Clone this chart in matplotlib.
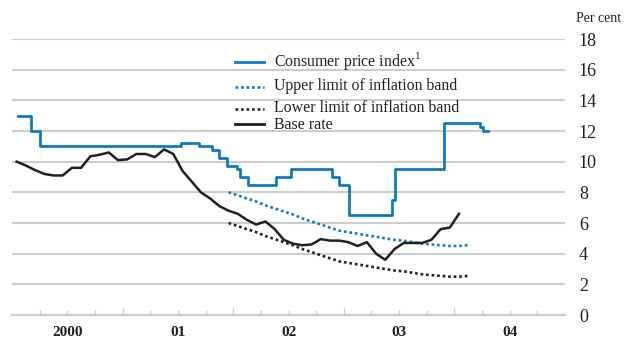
import numpy as np
import matplotlib.pyplot as plt
from matplotlib.lines import Line2D
from matplotlib.ticker import FixedLocator, FuncFormatter

plt.rcParams['font.family'] = ['Liberation Serif', 'DejaVu Serif']
plt.rcParams['mathtext.fontset'] = 'custom'
plt.rcParams['mathtext.rm'] = 'Liberation Serif'

BLUE = '#0f7ac3'
BLACK = '#231f20'
GRID = '#cdcdcd'

# step series: change dates (decimal years) and the level that holds from each date
cpi_dates = [2000.054, 2000.172, 2000.253, 2001.528, 2001.691, 2001.808, 2001.872,
             2001.944, 2002.034, 2002.062, 2002.134, 2002.387, 2002.523, 2002.891,
             2002.959, 2003.050, 2003.438, 2003.463, 2003.906, 2004.232, 2004.260,
             2004.304]
cpi_values = [13.0, 12.0, 11.0, 11.25, 11.0, 10.75, 10.25, 9.75, 9.5, 9.0, 8.5,
              9.0, 9.5, 9.0, 8.5, 6.5, 7.5, 9.5, 12.5, 12.25, 12.0, 12.0]

# monthly series, Jan 2000 - Jan 2004
base_rate = [10.0, 9.75, 9.45, 9.2, 9.1, 9.1, 9.6, 9.6, 10.35, 10.45, 10.6, 10.1,
             10.15, 10.5, 10.5, 10.3, 10.8, 10.5, 9.4, 8.7, 8.0, 7.6, 7.1, 6.8,
             6.6, 6.2, 5.9, 6.1, 5.6, 4.9, 4.65, 4.55, 4.6, 4.95, 4.85, 4.85,
             4.75, 4.5, 4.75, 4.0, 3.6, 4.3, 4.7, 4.7, 4.7, 4.9, 5.6, 5.7,
             6.6]

# inflation band, monthly Dec 2001 - Feb 2004
band_upper = [8.0, 7.8, 7.6, 7.4, 7.15, 6.95, 6.75, 6.55, 6.3, 6.1, 5.9, 5.7, 5.5,
              5.4, 5.3, 5.2, 5.1, 5.0, 4.9, 4.85, 4.75, 4.65, 4.6, 4.55, 4.5,
              4.5, 4.55]
band_lower = [6.0, 5.8, 5.6, 5.4, 5.15, 4.95, 4.75, 4.55, 4.3, 4.1, 3.9, 3.7, 3.5,
              3.4, 3.3, 3.2, 3.1, 3.0, 2.9, 2.85, 2.75, 2.65, 2.6, 2.55, 2.5,
              2.5, 2.55]

year_labels = ['2000', '01', '02', '03', '04']


def months_from(year, month, n):
    # mid-month positions in decimal years
    return year + (month - 1 + np.arange(n) + 0.5) / 12.0


rate_x = months_from(2000, 1, len(base_rate))
band_x = months_from(2001, 12, len(band_upper))

fig = plt.figure(figsize=(6.38, 3.38), dpi=100)
ax = fig.add_axes([12 / 638, 23 / 338, 553 / 638, 276 / 338])

ax.step(cpi_dates, cpi_values, where='post', color=BLUE, lw=2.0, zorder=3)
ax.plot(band_x, band_upper, color=BLUE, lw=1.9, ls=(0, (1, 1.1)), zorder=3)
ax.plot(band_x, band_lower, color=BLACK, lw=1.9, ls=(0, (1, 1.1)), zorder=3)
ax.plot(rate_x, base_rate, color=BLACK, lw=1.8, zorder=4)

ax.set_xlim(2000, 2005)
ax.set_ylim(0, 18)

# y axis on the right, gridlines every 2
ax.set_yticks(range(0, 19, 2))
ax.yaxis.tick_right()
ax.tick_params(axis='y', length=0, pad=10, labelsize=13, colors=BLACK)
ax.grid(axis='y', color=GRID, lw=1.5)
ax.set_axisbelow(True)

# x axis: tall ticks at year ends, short ticks at quarters, labels mid-year
ax.xaxis.set_major_locator(FixedLocator([2001, 2002, 2003, 2004]))
ax.xaxis.set_major_formatter(FuncFormatter(lambda v, p: ''))
quarters = [y + q for y in range(2000, 2005) for q in (0.25, 0.5, 0.75)]
ax.xaxis.set_minor_locator(FixedLocator(quarters))
lab = {2000 + i + 0.5: s for i, s in enumerate(year_labels)}
ax.xaxis.set_minor_formatter(FuncFormatter(lambda v, p: lab.get(round(v, 2), '')))
ax.tick_params(axis='x', which='major', direction='in', length=5, width=1.0, color=GRID)
ax.tick_params(axis='x', which='minor', direction='in', length=3.5, width=1.0, color=GRID,
               pad=8, labelsize=11)
for t in ax.xaxis.get_minorticklabels():
    t.set_fontweight('bold')
    t.set_color(BLACK)

for s in ('top', 'left', 'right'):
    ax.spines[s].set_visible(False)
ax.spines['bottom'].set_color(GRID)
ax.spines['bottom'].set_linewidth(1.5)

fig.text(576 / 638, 1 - 18 / 338, 'Per cent', fontsize=10, ha='left', va='center', color=BLACK)

# legend keys and labels
keys = [
    (62, BLUE, '-', 'Consumer price index$^{\\mathrm{1}}$', 61),
    (87, BLUE, (0, (1, 1.1)), 'Upper limit of inflation band', 86),
    (109, BLACK, (0, (1, 1.1)), 'Lower limit of inflation band', 108),
    (124, BLACK, '-', 'Base rate', 125),
]
for ky, col, style, text, ty in keys:
    fig.add_artist(Line2D([235 / 638, 264 / 638], [1 - ky / 338] * 2, color=col,
                          lw=2.0 if style == '-' else 1.9, ls=style))
    fig.text(274 / 638, 1 - ty / 338, text, fontsize=11.4, ha='left', va='center', color=BLACK)

fig.savefig('out.png', dpi=100)
